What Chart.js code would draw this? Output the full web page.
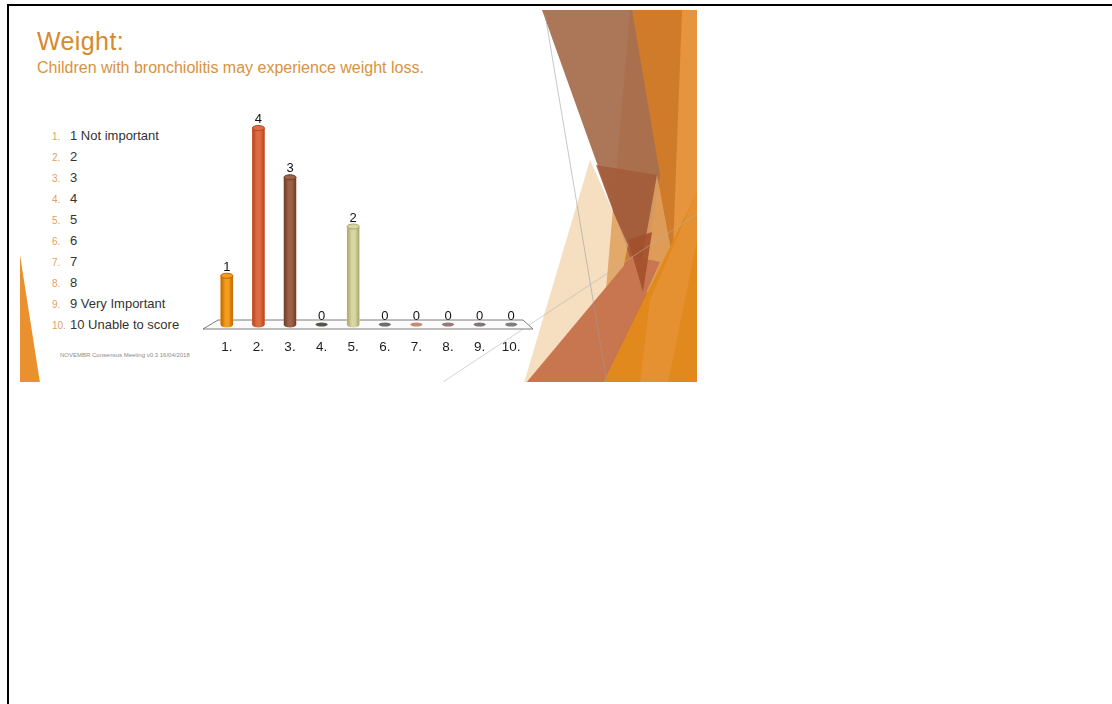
<!DOCTYPE html>
<html>
<head>
<meta charset="utf-8">
<title>Weight</title>
<script src="https://cdn.jsdelivr.net/npm/chart.js@4.4.1/dist/chart.umd.min.js"></script>
<style>
  html, body { margin: 0; padding: 0; background: #fff; }
  body { position: relative; width: 1112px; height: 704px; overflow: hidden; font-family: "Liberation Sans", Arial, sans-serif; }
  .rule-top { position: absolute; left: 7px; top: 4px; width: 1105px; height: 2px; background: #000; }
  .rule-left { position: absolute; left: 7px; top: 4px; width: 2px; height: 700px; background: #000; }
  #deco { position: absolute; left: 0; top: 0; }
  .title { position: absolute; left: 37px; top: 29px; font-size: 25px; line-height: 25px; letter-spacing: 0.4px; color: #D68A2E; white-space: nowrap; }
  .subtitle { position: absolute; left: 37px; top: 60px; font-size: 16px; line-height: 16px; color: #D9923E; white-space: nowrap; }
  #legend { position: absolute; left: 52px; top: 125px; }
  #legend .row { display: flex; align-items: baseline; height: 21px; line-height: 21px; white-space: nowrap; }
  #legend .num { width: 18px; font-size: 10px; color: #DDA263; }
  #legend .txt { font-size: 13px; color: #333; }
  .footer { position: absolute; left: 60px; top: 352px; font-size: 6px; line-height: 6px; color: #8c8c8c; white-space: nowrap; }
  #chart { position: absolute; left: 20px; top: 10px; }
</style>
</head>
<body>
<div class="rule-top"></div>
<div class="rule-left"></div>

<!-- slide background facets -->
<svg id="deco" width="1112" height="704">
  <defs>
    <clipPath id="slideClip"><rect x="20" y="10" width="677" height="372"/></clipPath>
  </defs>
  <g clip-path="url(#slideClip)">
    <polygon points="20,255 20,383 40,383" fill="#E8912E"/>
    <polygon points="630,10 697,10 697,383 598,383" fill="#D07B2A"/>
    <polygon points="682,10 697,10 697,383 668,383" fill="#E6943E"/>
    <polygon points="542,10 632,10 660,175 643,292" fill="#A8704F" fill-opacity="0.95"/>
    <polygon points="596,165 657,175 643,292" fill="#A45C3A" fill-opacity="0.9"/>
    <polygon points="590,160 628,245 600,383 524,383" fill="#F0C898" fill-opacity="0.6"/>
    <polygon points="657,175 672,255 650,300 640,270" fill="#E2A565" fill-opacity="0.8"/>
    <polygon points="526,383 632,256 660,262 605,383" fill="#C8764F"/>
    <polygon points="628,240 652,232 643,292" fill="#A3502C" fill-opacity="0.9"/>
    <polygon points="603,383 697,192 697,383" fill="#E2891E"/>
    <polygon points="650,300 697,192 697,240 668,383 640,383" fill="#E89A45" fill-opacity="0.5"/>
    <line x1="545" y1="14" x2="607" y2="383" stroke="#9a9a9a" stroke-opacity="0.7" stroke-width="0.8"/>
    <line x1="443" y1="382" x2="697" y2="214" stroke="#b0b0b0" stroke-opacity="0.7" stroke-width="0.8"/>
  </g>
</svg>

<div class="title">Weight:</div>
<div class="subtitle">Children with bronchiolitis may experience weight loss.</div>
<div id="legend"></div>
<div class="footer">NOVEMBR Consensus Meeting v0.3 16/04/2018</div>

<canvas id="chart" width="677" height="372"></canvas>

<script>
// Response options and vote counts
const categories = ['1.', '2.', '3.', '4.', '5.', '6.', '7.', '8.', '9.', '10.'];
const votes = [1, 4, 3, 0, 2, 0, 0, 0, 0, 0];
const optionLabels = ['1 Not important', '2', '3', '4', '5', '6', '7', '8', '9 Very Important', '10 Unable to score'];

// Cylinder colours per option: [edge, highlight]
const barColors = [
  ['#BA6508', '#F59C1C'],
  ['#B4471F', '#DC6C42'],
  ['#6C3F28', '#9C6146'],
  ['#55564A', '#77786A'],
  ['#A8A46A', '#D8D6A2'],
  ['#6E6E6E', '#9A9A9A'],
  ['#C48A74', '#E0B2A0'],
  ['#957878', '#B89C9C'],
  ['#807676', '#A49A9A'],
  ['#7E7E7E', '#A6A6A6']
];

// Numbered answer list
const legendEl = document.getElementById('legend');
optionLabels.forEach((t, i) => {
  const row = document.createElement('div');
  row.className = 'row';
  const n = document.createElement('span');
  n.className = 'num';
  n.textContent = (i + 1) + '.';
  const s = document.createElement('span');
  s.className = 'txt';
  s.textContent = t;
  row.appendChild(n);
  row.appendChild(s);
  legendEl.appendChild(row);
});

function cylinderFill(ctx, x, half, i) {
  const [edge, light] = barColors[i];
  const g = ctx.createLinearGradient(x - half, 0, x + half, 0);
  g.addColorStop(0, edge);
  g.addColorStop(0.38, light);
  g.addColorStop(0.65, light);
  g.addColorStop(1, edge);
  return g;
}

// Floor slab, cylinder shading, caps and value labels
const cylinderPlugin = {
  id: 'cylinder',
  beforeDatasetsDraw(chart) {
    const ctx = chart.ctx;
    const base = chart.scales.y.getPixelForValue(0);
    const { left, right } = chart.chartArea;
    ctx.save();
    ctx.beginPath();
    ctx.moveTo(left + 7, base - 5);
    ctx.lineTo(right - 4, base - 5);
    ctx.lineTo(right + 6, base + 4);
    ctx.lineTo(left - 8, base + 4);
    ctx.closePath();
    ctx.fillStyle = '#fbfbfb';
    ctx.fill();
    ctx.strokeStyle = '#7c7c7c';
    ctx.lineWidth = 1;
    ctx.stroke();
    ctx.restore();
  },
  afterDatasetsDraw(chart) {
    const ctx = chart.ctx;
    const meta = chart.getDatasetMeta(0);
    const data = chart.data.datasets[0].data;
    ctx.save();
    meta.data.forEach((el, i) => {
      const { x, y, base, width } = el.getProps(['x', 'y', 'base', 'width'], true);
      const r = width / 2;
      const [edge, light] = barColors[i];
      if (data[i] > 0) {
        const fill = cylinderFill(ctx, x, r, i);
        ctx.fillStyle = fill;
        ctx.fillRect(x - r, y, width, base - y);
        ctx.beginPath();
        ctx.ellipse(x, base, r, 2.5, 0, 0, Math.PI);
        ctx.fill();
        ctx.beginPath();
        ctx.ellipse(x, y, r, 2.5, 0, 0, Math.PI * 2);
        ctx.fillStyle = light;
        ctx.fill();
        ctx.strokeStyle = edge;
        ctx.lineWidth = 1;
        ctx.stroke();
      } else {
        ctx.beginPath();
        ctx.ellipse(x, base - 0.5, r, 2, 0, 0, Math.PI * 2);
        ctx.fillStyle = edge;
        ctx.fill();
      }
      ctx.fillStyle = '#111';
      ctx.font = '13px "Liberation Sans", Arial, sans-serif';
      ctx.textAlign = 'center';
      ctx.textBaseline = 'alphabetic';
      ctx.fillText(String(data[i]), x, y - 5);
    });
    ctx.restore();
  }
};

new Chart(document.getElementById('chart'), {
  type: 'bar',
  data: {
    labels: categories,
    datasets: [{
      data: votes,
      barThickness: 12,
      borderWidth: 0,
      backgroundColor: barColors.map(c => c[1])
    }]
  },
  options: {
    responsive: false,
    animation: false,
    events: [],
    layout: { padding: { left: 191, right: 170, top: 118, bottom: 0 } },
    plugins: { legend: { display: false }, tooltip: { enabled: false } },
    scales: {
      x: {
        offset: true,
        grid: { display: false, drawTicks: false },
        border: { display: false },
        ticks: {
          color: '#1c1c1c',
          padding: 14,
          font: { family: '"Liberation Sans", Arial, sans-serif', size: 13.5 }
        },
        afterFit: (s) => { s.height = 57; }
      },
      y: { display: false, min: 0, max: 4 }
    }
  },
  plugins: [cylinderPlugin]
});
</script>
</body>
</html>
